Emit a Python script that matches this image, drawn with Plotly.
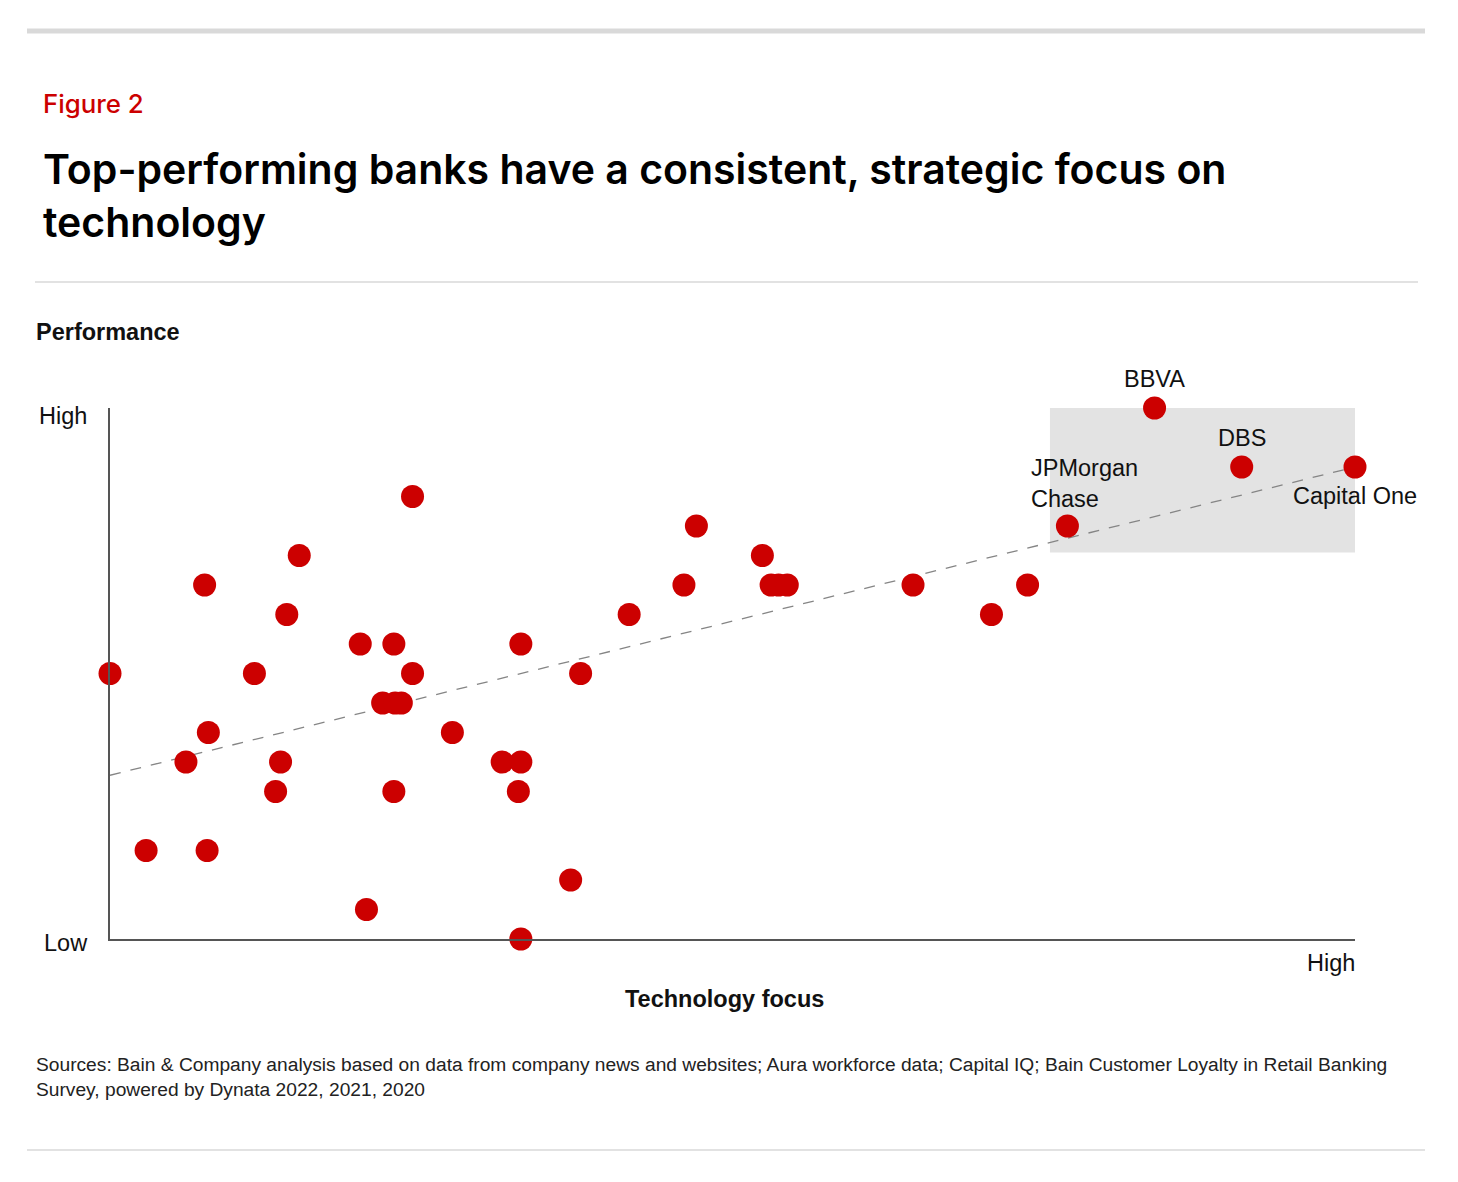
import plotly.graph_objects as go

# bank positions (tech focus 0-100, performance 0-18)
tech_focus = [
    0, 2.9, 6.1, 7.6, 7.8, 7.9, 11.6, 13.3, 13.7, 14.2, 15.2,
    20.1, 20.6, 21.9, 22.8, 22.8, 22.9, 23.4, 24.3, 24.3, 27.5,
    31.5, 32.8, 33.0, 33.0, 33.0, 37.0, 37.8, 41.7, 46.1, 47.1,
    52.4, 53.1, 53.7, 54.4, 64.5, 70.8, 73.7, 76.9, 83.9, 90.9, 100,
]
performance = [
    9, 3, 6, 12, 3, 7, 9, 5, 6, 11, 13,
    10, 1, 8, 10, 5, 8, 8, 15, 9, 7,
    6, 5, 10, 6, 0, 2, 9, 11, 12, 14,
    13, 12, 12, 12, 12, 11, 12, 14, 18, 16, 16,
]
labelled = {
    "JPMorgan<br>Chase": (76.9, 14),
    "BBVA": (83.9, 18),
    "DBS": (90.9, 16),
    "Capital One": (100, 16),
}
trend_x = [0, 100]
trend_y = [5.55, 16.0]

RED = "#cc0000"
GREY_LINE = "#d9d9d9"
AXIS = "#555555"

# page body has an 8px margin, so figure coords = page coords - 8
OFF = 8
W, H = 1442, 1166
L, T = 110 - OFF, 408 - OFF
R = W - (1355 - OFF)
B = H - (939 - OFF)

fig = go.Figure()

# shaded "top performers" box
fig.add_shape(type="rect", xref="x", yref="y", x0=75.5, x1=100, y0=13.1, y1=18,
              fillcolor="#e3e3e3", line_width=0, layer="below")

fig.add_trace(go.Scatter(x=trend_x, y=trend_y, mode="lines",
                         line=dict(color="#858585", width=1.3, dash="11px,10px"),
                         hoverinfo="skip", cliponaxis=False))

fig.add_trace(go.Scatter(x=tech_focus, y=performance, mode="markers",
                         marker=dict(color=RED, size=23, line_width=0),
                         cliponaxis=False))

lab_font = dict(family="Liberation Sans, Arial, sans-serif", size=23.5, color="#111111")
for name, (lx, ly) in labelled.items():
    if name.startswith("JPMorgan"):
        fig.add_annotation(x=lx, y=ly, text=name, showarrow=False, xanchor="left",
                           yanchor="bottom", xshift=-38, yshift=12, align="left",
                           font=lab_font)
    elif name == "Capital One":
        fig.add_annotation(x=lx, y=ly, text=name, showarrow=False, xanchor="center",
                           yanchor="top", yshift=-14, font=lab_font)
    else:
        fig.add_annotation(x=lx, y=ly, text=name, showarrow=False, xanchor="center",
                           yanchor="bottom", yshift=14, font=lab_font)

fig.update_xaxes(range=[0, 100], showgrid=False, zeroline=False, showticklabels=False,
                 showline=True, linecolor=AXIS, linewidth=2, ticks="")
fig.update_yaxes(range=[0, 18], showgrid=False, zeroline=False, showticklabels=False,
                 showline=True, linecolor=AXIS, linewidth=2, ticks="")

paper = dict(xref="paper", yref="paper", showarrow=False)


def px(x, y):
    # page pixel -> paper coordinates
    x, y = x - OFF, y - OFF
    return (x - L) / (W - L - R), 1 - (y - T) / (H - T - B)


ax_font = dict(family="Liberation Sans, Arial, sans-serif", size=23.5, color="#111111")
x0, y0 = px(37, 416)
fig.add_annotation(x=x0, y=y0, text="High", xanchor="left", yanchor="middle", font=ax_font, **paper)
x0, y0 = px(42, 943)
fig.add_annotation(x=x0, y=y0, text="Low", xanchor="left", yanchor="middle", font=ax_font, **paper)
x0, y0 = px(1357, 963)
fig.add_annotation(x=x0, y=y0, text="High", xanchor="right", yanchor="middle", font=ax_font, **paper)
x0, y0 = px(724, 999)
fig.add_annotation(x=x0, y=y0, text="<b>Technology focus</b>", xanchor="center", yanchor="middle",
                   font=ax_font, **paper)
x0, y0 = px(34, 332)
fig.add_annotation(x=x0, y=y0, text="<b>Performance</b>", xanchor="left", yanchor="middle",
                   font=ax_font, **paper)

x0, y0 = px(41, 103)
fig.add_annotation(x=x0, y=y0, text="Figure 2", xanchor="left", yanchor="middle",
                   font=dict(family="Inter, Roboto, sans-serif", size=25.8, color=RED, weight=500), **paper)
x0, y0 = px(41, 195)
fig.add_annotation(x=x0, y=y0, align="left", xanchor="left", yanchor="middle",
                   text="Top-performing banks have a consistent, strategic focus on<br>technology",
                   font=dict(family="Inter, Roboto, sans-serif", size=41, color="#000000", weight=600),
                   **paper)
x0, y0 = px(34, 1077)
fig.add_annotation(x=x0, y=y0, align="left", xanchor="left", yanchor="middle",
                   text="Sources: Bain & Company analysis based on data from company news and websites; "
                        "Aura workforce data; Capital IQ; Bain Customer Loyalty in Retail Banking<br>"
                        "Survey, powered by Dynata 2022, 2021, 2020",
                   font=dict(family="Liberation Sans, Arial, sans-serif", size=19.2, color="#222222"),
                   **paper)

# horizontal rules
for (xa, xb, yy, w) in [(27, 1425, 31, 5), (35, 1418, 282, 1.5), (27, 1425, 1150, 1.5)]:
    xa_p, yy_p = px(xa, yy)
    xb_p, _ = px(xb, yy)
    fig.add_shape(type="line", xref="paper", yref="paper", x0=xa_p, x1=xb_p, y0=yy_p, y1=yy_p,
                  line=dict(color=GREY_LINE, width=w))

fig.update_layout(
    width=W, height=H,
    margin=dict(l=L, r=R, t=T, b=B, autoexpand=False),
    plot_bgcolor="white", paper_bgcolor="white",
    showlegend=False,
)

fig.write_html("out.html")
